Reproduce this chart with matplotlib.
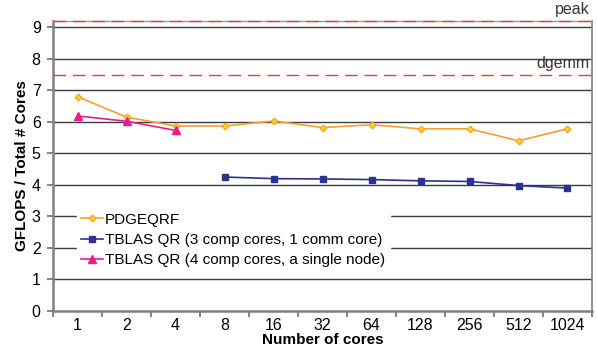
import matplotlib.pyplot as plt
import numpy as np

plt.rcParams["font.family"] = ["Liberation Sans", "DejaVu Sans"]

cores = ["1", "2", "4", "8", "16", "32", "64", "128", "256", "512", "1024"]

pdgeqrf = [6.80, 6.15, 5.87, 5.87, 6.03, 5.82, 5.91, 5.78, 5.78, 5.40, 5.78]
tblas_comm = [4.25, 4.20, 4.19, 4.17, 4.13, 4.11, 3.98, 3.90]  # from 8 cores up
tblas_node = [6.19, 6.02, 5.73]  # 1, 2 and 4 cores

PEAK = 9.2
DGEMM = 7.5

x = np.arange(len(cores))

fig = plt.figure(figsize=(5.97, 3.51), dpi=100)
ax = fig.add_axes([0.089, 0.114, 0.9026, 0.826])

ax.set_ylim(0, PEAK)
ax.set_xlim(-0.5, len(cores) - 0.5)

# horizontal gridlines, Excel style
for yv in range(1, 10):
    ax.axhline(yv, color="#3c3c3c", lw=1.0, zorder=1)

dash = (0, (9, 5))
ax.axhline(PEAK, color="#e8403c", lw=1.0, ls=dash, zorder=3, clip_on=False)
ax.axhline(DGEMM, color="#e8403c", lw=1.0, ls=dash, zorder=3)
ax.text(0.995, PEAK + 0.12, "peak", transform=ax.get_yaxis_transform(),
        ha="right", va="bottom", fontsize=11.5, color="#333333", clip_on=False)
ax.text(0.995, DGEMM + 0.12, "dgemm", transform=ax.get_yaxis_transform(),
        ha="right", va="bottom", fontsize=11.5, color="#333333")

ax.plot(x, pdgeqrf, color="#f7a032", lw=1.2, marker="D", ms=3.5,
        mfc="#ffd21f", mec="#f7a032", mew=0.8, label="PDGEQRF", zorder=5)
ax.plot(x[3:], tblas_comm, color="#2b3192", lw=1.2, marker="s", ms=5,
        mfc="#2b3192", mec="#2b3192",
        label="TBLAS QR (3 comp cores, 1 comm core)", zorder=5)
ax.plot(x[:3], tblas_node, color="#ec1c8c", lw=1.2, marker="^", ms=6,
        mfc="#ec1c8c", mec="#ec1c8c",
        label="TBLAS QR (4 comp cores, a single node)", zorder=5)

# category labels centred, ticks on the boundaries
ax.set_xticks(np.arange(-0.5, len(cores)), labels=[])
ax.set_xticks(x, labels=cores, minor=True)
ax.tick_params(axis="x", which="major", direction="out", length=4,
               width=1.2, color="#707070")
ax.tick_params(axis="x", which="minor", length=0, labelsize=11.5, pad=5)
ax.set_yticks(range(0, 10))
ax.tick_params(axis="y", direction="out", length=4, width=1.2,
               color="#707070", labelsize=11.5, pad=5)

for side in ("left", "bottom", "right"):
    ax.spines[side].set_color("#808080")
    ax.spines[side].set_linewidth(1.8)
ax.spines["right"].set_linewidth(1.2)
ax.spines["top"].set_color("#9a9a9a")
ax.spines["top"].set_linewidth(1.0)

ax.set_xlabel("Number of cores", fontsize=11, fontweight="bold", labelpad=0)
ax.set_ylabel("GFLOPS / Total # Cores", fontsize=11, fontweight="bold")
ax.yaxis.set_label_coords(-0.045, 0.5)

leg = ax.legend(loc="upper left", bbox_to_anchor=(0.044, 0.355), fontsize=11,
                frameon=True, fancybox=False, framealpha=1.0, edgecolor="white",
                handlelength=1.4, handletextpad=0.15, labelspacing=0.42,
                borderpad=0.3, borderaxespad=0)
leg.set_zorder(6)

fig.savefig("out.png", dpi=100)
